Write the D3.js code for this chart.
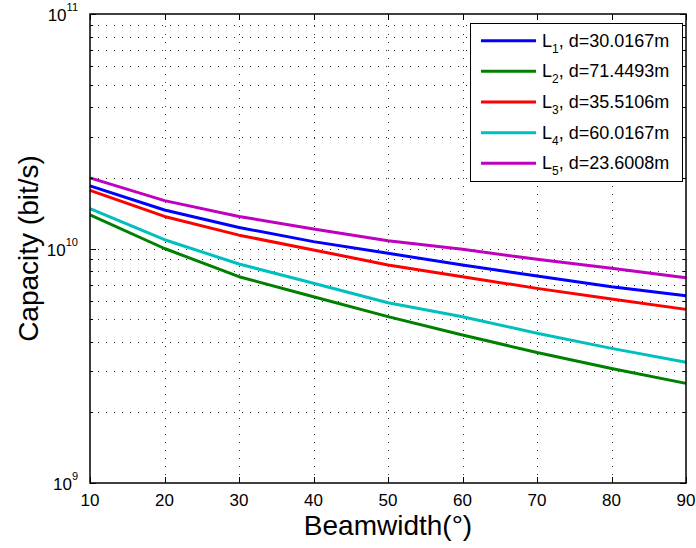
<!DOCTYPE html>
<html>
<head>
<meta charset="utf-8">
<script src="https://cdn.jsdelivr.net/npm/d3@7"></script>
<style>
  body { margin: 0; background: #fff; }
  text { font-family: "Liberation Sans", Arial, sans-serif; fill: #000; }
</style>
</head>
<body>
<svg id="chart" width="696" height="548"></svg>
<script>
// beamwidth in degrees
var beamwidth = [10, 20, 30, 40, 50, 60, 70, 80, 90];

// capacity in bit/s for each link
var capL1 = [1.85e10, 1.46e10, 1.23e10, 1.07e10, 9.54e9, 8.50e9, 7.63e9, 6.87e9, 6.29e9];
var capL2 = [1.39e10, 1.00e10, 7.58e9, 6.23e9, 5.12e9, 4.28e9, 3.60e9, 3.08e9, 2.66e9];
var capL3 = [1.77e10, 1.37e10, 1.14e10, 9.86e9, 8.51e9, 7.58e9, 6.76e9, 6.09e9, 5.50e9];
var capL4 = [1.48e10, 1.09e10, 8.59e9, 7.11e9, 5.87e9, 5.12e9, 4.35e9, 3.75e9, 3.27e9];
var capL5 = [2.00e10, 1.60e10, 1.37e10, 1.21e10, 1.08e10, 9.92e9, 8.99e9, 8.23e9, 7.51e9];

var linkNames = ["1", "2", "3", "4", "5"];
var linkDist = ["30.0167m", "71.4493m", "35.5106m", "60.0167m", "23.6008m"];
var linkColors = ["#0000ff", "#008000", "#ff0000", "#00bfbf", "#bf00bf"];
var series = [capL1, capL2, capL3, capL4, capL5];

var xTicks = [10, 20, 30, 40, 50, 60, 70, 80, 90];
var yMajor = [9, 10, 11];

var margin = {left: 90, right: 10, top: 14, bottom: 65},
    W = 696, H = 548,
    x0 = margin.left, x1 = W - margin.right,
    y0 = H - margin.bottom, y1 = margin.top;

var x = d3.scaleLinear().domain([10, 90]).range([x0, x1]);
var y = d3.scaleLog().domain([1e9, 1e11]).range([y0, y1]);

var svg = d3.select("#chart");

// minor values for log axis
var yMinor = [];
[1e9, 1e10].forEach(function(base){
    for(var k = 2; k <= 9; k++){ yMinor.push(base * k); }
});

// grid
var grid = svg.append("g")
    .attr("stroke", "#333")
    .attr("stroke-width", 1)
    .attr("stroke-dasharray", "1,7");

grid.selectAll("line.gx")
    .data(xTicks.slice(1, -1))
    .enter().append("line")
    .attr("x1", function(d){ return Math.round(x(d)) + 0.5; })
    .attr("x2", function(d){ return Math.round(x(d)) + 0.5; })
    .attr("y1", y0).attr("y2", y1);

grid.selectAll("line.gy")
    .data(yMinor.concat([1e10]))
    .enter().append("line")
    .attr("y1", function(d){ return Math.round(y(d)) + 0.5; })
    .attr("y2", function(d){ return Math.round(y(d)) + 0.5; })
    .attr("x1", x0).attr("x2", x1);

// lines
var line = d3.line()
    .x(function(d, i){ return x(beamwidth[i]); })
    .y(function(d){ return y(d); });

svg.append("g").selectAll("path")
    .data(series)
    .enter().append("path")
    .attr("d", line)
    .attr("fill", "none")
    .attr("stroke", function(d, i){ return linkColors[i]; })
    .attr("stroke-width", 3)
    .attr("stroke-linejoin", "round");

// ticks (inward, both sides)
var ticks = svg.append("g").attr("stroke", "#000").attr("stroke-width", 1);
xTicks.forEach(function(v){
    var px = Math.round(x(v)) + 0.5;
    ticks.append("line").attr("x1", px).attr("x2", px).attr("y1", y0).attr("y2", y0 - 6);
    ticks.append("line").attr("x1", px).attr("x2", px).attr("y1", y1).attr("y2", y1 + 6);
});
yMajor.forEach(function(e){
    var py = Math.round(y(Math.pow(10, e))) + 0.5;
    ticks.append("line").attr("x1", x0).attr("x2", x0 + 6).attr("y1", py).attr("y2", py);
    ticks.append("line").attr("x1", x1).attr("x2", x1 - 6).attr("y1", py).attr("y2", py);
});
yMinor.forEach(function(v){
    var py = Math.round(y(v)) + 0.5;
    ticks.append("line").attr("x1", x0).attr("x2", x0 + 3).attr("y1", py).attr("y2", py);
    ticks.append("line").attr("x1", x1).attr("x2", x1 - 3).attr("y1", py).attr("y2", py);
});

// frame
svg.append("rect")
    .attr("x", x0).attr("y", y1)
    .attr("width", x1 - x0).attr("height", y0 - y1)
    .attr("fill", "none").attr("stroke", "#000").attr("stroke-width", 1.5);

// x tick labels
svg.append("g").selectAll("text")
    .data(xTicks)
    .enter().append("text")
    .attr("x", function(d){ return x(d); })
    .attr("y", y0 + 23)
    .attr("text-anchor", "middle")
    .style("font-size", "17px")
    .text(function(d){ return d; });

// y tick labels 10^n
var yl = svg.append("g").selectAll("text")
    .data(yMajor)
    .enter().append("text")
    .attr("x", x0 - 12)
    .attr("y", function(d){ return y(Math.pow(10, d)) + 7; })
    .attr("text-anchor", "end")
    .style("font-size", "17px");
yl.append("tspan").text("10");
yl.append("tspan")
    .attr("dy", -10)
    .style("font-size", "11px")
    .text(function(d){ return d; });

// axis titles
svg.append("text")
    .attr("x", (x0 + x1) / 2)
    .attr("y", 535)
    .attr("text-anchor", "middle")
    .style("font-size", "28px")
    .text("Beamwidth(°)");

svg.append("text")
    .attr("transform", "translate(38," + ((y0 + y1) / 2) + ") rotate(-90)")
    .attr("text-anchor", "middle")
    .style("font-size", "28px")
    .text("Capacity (bit/s)");

// legend
var lg = svg.append("g");
lg.append("rect")
    .attr("x", 470.5).attr("y", 23.5)
    .attr("width", 212).attr("height", 158)
    .attr("fill", "#fff").attr("stroke", "#000").attr("stroke-width", 1);

var items = lg.selectAll("g.item")
    .data(linkNames)
    .enter().append("g")
    .attr("transform", function(d, i){ return "translate(0," + (40.7 + i * 30.65) + ")"; });

items.append("line")
    .attr("x1", 481).attr("x2", 536)
    .attr("stroke", function(d, i){ return linkColors[i]; })
    .attr("stroke-width", 3);

var lt = items.append("text")
    .attr("x", 542)
    .attr("y", 6)
    .style("font-size", "18px");
lt.append("tspan").text("L");
lt.append("tspan").attr("dy", 6).style("font-size", "12px").text(function(d){ return d; });
lt.append("tspan").attr("dy", -6).text(function(d, i){ return ", d=" + linkDist[i]; });
</script>
</body>
</html>
